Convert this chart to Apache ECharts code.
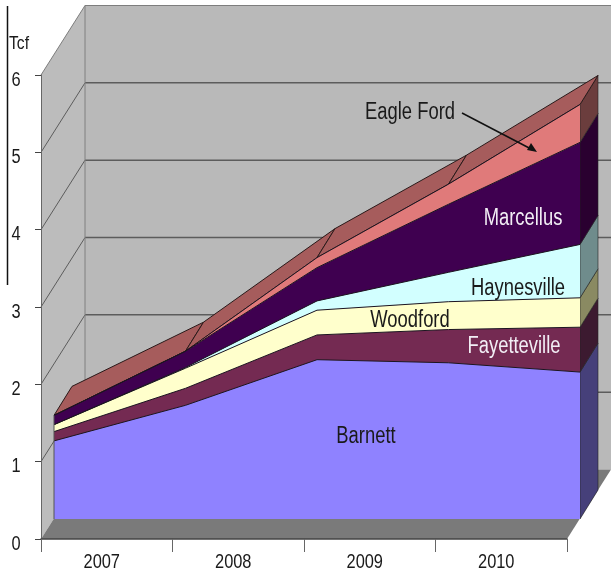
<!DOCTYPE html>
<html><head><meta charset="utf-8">
<style>html,body{margin:0;padding:0;background:#fff}#c{width:611px;height:575px}</style>
<script src="https://cdn.jsdelivr.net/npm/echarts@6/dist/echarts.min.js"></script>
</head><body><div id="c"></div>
<script>
const years = ['2007','2008','2009','2010'];
const points = ['p0','p1','p2','p3','p4'];
const yTicks = [0,1,2,3,4,5,6];
const barnett      = [1.01,1.47,2.06,2.02,1.90];
const fayetteville = [0.12,0.22,0.32,0.43,0.58];
const woodford     = [0.09,0.26,0.32,0.36,0.38];
const haynesville  = [0.00,0.01,0.12,0.38,0.69];
const marcellus    = [0.12,0.21,0.43,0.88,1.32];
const eagleFord    = [0.00,0.00,0.13,0.26,0.49];
const names = ['Barnett','Fayetteville','Woodford','Haynesville','Marcellus','Eagle Ford'];
const stackVals = [barnett,fayetteville,woodford,haynesville,marcellus,eagleFord];
const frontColors = ['#8f82ff','#742a52','#ffffcc','#d2ffff','#3f0050','#e07a7a'];
const sideColors  = ['#46407a','#3c1a30','#8a8a62','#6f8c8c','#2a0030','#6b3d3d'];
const topColor = '#a65c5c';
const FONT = '"Liberation Sans",Arial,sans-serif';
const wallD = [44,-69.5], serD = [18,-29];
const cum = []; stackVals.forEach((a,i)=>cum.push(a.map((v,j)=>v+(i?cum[i-1][j]:0))));
const add = (p,d)=>[p[0]+d[0],p[1]+d[1]];
const poly = (pts,fill,stroke,w)=>({type:'polygon',shape:{points:pts},style:{fill:fill,stroke:stroke||null,lineWidth:w||0}});
const line = (a,b,c,w)=>({type:'line',shape:{x1:a[0],y1:a[1],x2:b[0],y2:b[1]},style:{stroke:c,lineWidth:w||1,fill:null}});
const txt = (t,x,y,col,fs,sx)=>({type:'text',x:x,y:y,scaleX:sx,scaleY:1,z:20,style:{text:t,fill:col,font:fs+'px '+FONT,textAlign:'center',textVerticalAlign:'middle',align:'center',verticalAlign:'middle'}});

function renderBack(params,api){
  const c=(x,y)=>api.coord([x,y]);
  const ch=[];
  const f00=c(0,0),f40=c(4,0),f06=c(0,6),f46=c(4,6);
  ch.push(poly([add(f06,wallD),add(f46,wallD),add(f40,wallD),add(f00,wallD)],'#b9b9b9'));
  ch.push(poly([f06,add(f06,wallD),add(f00,wallD),f00],'#bcbcbc'));
  ch.push(poly([f00,f40,add(f40,wallD),add(f00,wallD)],'#7a7a7a'));
  yTicks.forEach(t=>{ if(t===0) return;
    const a=c(0,t),b=add(a,wallD),d=add(c(4,t),wallD);
    const col = t===6?'#7d7d7d':'#5c5c5c';
    ch.push(line(a,b,col,1)); ch.push(line(b,d,col,t===6?1:1.5));
  });
  ch.push(line(add(f06,wallD),add(f00,wallD),'#808080',1));
  yTicks.forEach(t=>{const p=c(0,t); ch.push(txt(String(t),p[0]-25,p[1]+5,'#1a1a1a',20,0.82));});
  years.forEach((y,i)=>{const p=c(i+0.5,0); ch.push(txt(y,p[0]-5,p[1]+23,'#1a1a1a',20,0.82));});
  return {type:'group',children:ch};
}
function renderDepth(params,api){
  const c=(x,y)=>api.coord([x,y]);
  const ch=[];
  stackVals.forEach((a,i)=>{
    const top=c(4,cum[i][4]), bot=c(4,i?cum[i-1][4]:0);
    ch.push(poly([top,add(top,serD),add(bot,serD),bot],sideColors[i],'#222',0.6));
  });
  for(let j=0;j<points.length-1;j++){
    const p=c(j,cum[5][j]),q=c(j+1,cum[5][j+1]);
    ch.push(poly([p,q,add(q,serD),add(p,serD)],topColor,'#2a1a1a',1));
  }
  return {type:'group',children:ch};
}
function renderEdge(params,api){
  const c=(x,y)=>api.coord([x,y]);
  return {type:'group',children:[line(c(0,0),c(0,cum[5][0]),'#555',1)]};
}
const label=(t,x,y,col,fs,sx)=>txt(t,x,y,col,fs,sx||0.8);

const chart=echarts.init(document.getElementById('c'),null,{renderer:'canvas'});
chart.setOption({
  animation:false,
  backgroundColor:'#fff',
  grid:[
    {left:41,top:75,width:526,height:464},
    {left:54,top:55,width:526,height:464}
  ],
  xAxis:[
    {gridIndex:0,type:'category',data:years,boundaryGap:true,z:6,
     axisLine:{show:true,lineStyle:{color:'#444',width:1.5}},
     axisTick:{show:true,length:13,lineStyle:{color:'#666',width:1}},
     axisLabel:{show:false},splitLine:{show:false}},
    {gridIndex:0,type:'value',min:0,max:4,show:false},
    {gridIndex:1,type:'category',data:points,boundaryGap:false,show:false}
  ],
  yAxis:[
    {gridIndex:0,type:'value',min:0,max:6,interval:1,z:6,
     axisLine:{show:true,lineStyle:{color:'#666',width:1}},
     axisTick:{show:true,length:6,lineStyle:{color:'#444',width:1}},
     axisLabel:{show:false},splitLine:{show:false}},
    {gridIndex:1,type:'value',min:0,max:6,show:false}
  ],
  series:[
    {type:'custom',name:'walls',xAxisIndex:1,yAxisIndex:0,coordinateSystem:'cartesian2d',z:1,clip:false,silent:true,
     data:[[0,0]],renderItem:renderBack},
    {type:'custom',name:'depth',xAxisIndex:2,yAxisIndex:1,coordinateSystem:'cartesian2d',z:2,clip:false,silent:true,
     data:[[0,0]],renderItem:renderDepth},
    {type:'custom',name:'edge',xAxisIndex:2,yAxisIndex:1,coordinateSystem:'cartesian2d',z:4,clip:false,silent:true,
     data:[[0,0]],renderItem:renderEdge}
  ].concat(names.map((n,i)=>({
    type:'line',name:n,stack:'gas',xAxisIndex:2,yAxisIndex:1,z:3,
    symbol:'none',smooth:false,
    lineStyle:{color:'#1c1420',width:1},
    areaStyle:{color:frontColors[i],opacity:1},
    data:stackVals[i]
  }))),
  graphic:[
    {type:'line',shape:{x1:7.5,y1:6,x2:7.5,y2:285},style:{stroke:'#111',lineWidth:1.5},z:20},
    label('Tcf',19,44,'#1a1a1a',19,0.82),
    label('Eagle Ford',410,113,'#1a1a1a',23),
    label('Marcellus',523,219,'#f2eef5',23),
    label('Haynesville',518,289,'#1a1a1a',23),
    label('Woodford',410,321,'#1a1a1a',23),
    label('Fayetteville',514,347,'#f2eef5',23),
    label('Barnett',366,437,'#1a1a1a',23),
    {type:'line',shape:{x1:462,y1:113,x2:533,y2:150},style:{stroke:'#111',lineWidth:1.5},z:20},
    {type:'polygon',shape:{points:[[537,152],[527,150],[531,143]]},style:{fill:'#111'},z:20}
  ]
});
</script></body></html>
